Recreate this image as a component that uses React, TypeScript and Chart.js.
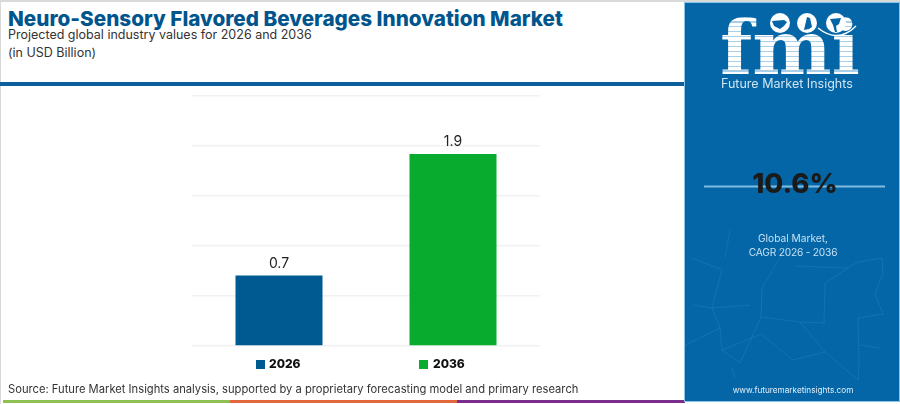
import React, { useEffect, useRef } from "react";
import { Chart, registerables } from "chart.js";

Chart.register(...registerables);

const categories = ["2026", "2036"];
const values = [0.705, 1.92];
const barColors = ["#005A92", "#08AB2E"];
const yTicks = [0, 0.5, 1, 1.5, 2, 2.5];

const SANS = "Inter, 'Noto Sans', sans-serif";

const stripes =
  "repeating-linear-gradient(180deg,#ffffff 0px,#ffffff 3.7px,#a9cfe8 3.7px,#a9cfe8 4.9px)";

const networkLines: [number, number, number, number][] = [
  [730, 230, 725, 258], [692, 258, 722, 270], [722, 270, 712, 308], [712, 308, 750, 305],
  [712, 308, 720, 328], [720, 328, 722, 350], [722, 350, 740, 363], [740, 363, 761, 317],
  [761, 317, 762, 288], [762, 288, 795, 232], [761, 317, 800, 322], [800, 322, 825, 352],
  [800, 322, 825, 323], [795, 266, 848, 268], [848, 268, 825, 283], [825, 283, 824, 323],
  [848, 268, 858, 262], [858, 262, 882, 258], [882, 258, 883, 273], [883, 273, 875, 294],
  [875, 294, 883, 314], [883, 314, 858, 318], [858, 318, 859, 360], [859, 360, 858, 380],
  [825, 352, 858, 380], [793, 360, 825, 352], [761, 334, 793, 360], [722, 350, 761, 334],
  [693, 305, 712, 308], [860, 345, 880, 348], [732, 368, 735, 378], [685, 345, 720, 328],
];

const dataLabels = {
  id: "dataLabels",
  afterDatasetsDraw(chart: any) {
    const { ctx } = chart;
    const meta = chart.getDatasetMeta(0);
    ctx.save();
    ctx.fillStyle = "#222222";
    ctx.font = "400 14px " + SANS;
    ctx.textAlign = "center";
    ctx.textBaseline = "bottom";
    meta.data.forEach((bar: any, i: number) => {
      ctx.fillText(values[i].toFixed(1), bar.x, bar.y - 5);
    });
    ctx.restore();
  },
};

function abs(left: number, top: number, extra: React.CSSProperties = {}): React.CSSProperties {
  return { position: "absolute", left, top, whiteSpace: "nowrap", fontFamily: SANS, ...extra };
}

export default function App() {
  const ref = useRef<HTMLCanvasElement>(null);

  useEffect(() => {
    const chart = new Chart(ref.current!, {
      type: "bar",
      data: {
        labels: categories,
        datasets: [
          {
            data: values,
            backgroundColor: barColors,
            barPercentage: 0.5,
            categoryPercentage: 1,
          },
        ],
      },
      options: {
        responsive: false,
        animation: false,
        devicePixelRatio: 1,
        layout: { padding: { left: 192, right: 360, top: 96, bottom: 58 } },
        plugins: { legend: { display: false }, tooltip: { enabled: false }, title: { display: false } },
        scales: {
          x: {
            grid: { display: false, drawTicks: false },
            border: { display: false },
            ticks: { display: false },
          },
          y: {
            min: 0,
            max: 2.5,
            afterBuildTicks: (axis: any) => {
              axis.ticks = yTicks.map((value) => ({ value }));
            },
            grid: { color: "#f1f1f1", lineWidth: 1.5, drawTicks: false },
            border: { display: false },
            ticks: { display: false },
          },
        },
      },
      plugins: [dataLabels],
    });
    return () => chart.destroy();
  }, []);

  return (
    <div style={{ position: "absolute", left: 0, top: 0, width: 900, height: 404, overflow: "hidden", background: "#ffffff" }}>
      <div style={{ position: "absolute", left: 0, top: 0, width: 900, height: 2, background: "#d9d9d9" }} />
      <div style={{ position: "absolute", left: 0, top: 0, width: 1, height: 404, background: "#d9d9d9" }} />

      <div style={abs(8, 4, { fontSize: 20.7, fontWeight: 800, color: "#00558C", lineHeight: "30px" })}>
        Neuro-Sensory Flavored Beverages Innovation Market
      </div>
      <div style={abs(8, 26, { fontSize: 12.5, color: "#333333", lineHeight: "18px" })}>
        Projected global industry values for 2026 and 2036
      </div>
      <div style={abs(8, 44, { fontSize: 12.5, color: "#333333", lineHeight: "18px" })}>(in USD Billion)</div>

      <div style={{ position: "absolute", left: 0, top: 82, width: 685, height: 4, background: "#0B5F9C" }} />

      <canvas ref={ref} width={900} height={404} style={{ position: "absolute", left: 0, top: 0, width: 900, height: 404 }} />

      {categories.map((c, i) => (
        <React.Fragment key={c}>
          <div style={{ position: "absolute", left: [256, 419][i], top: 360, width: 9, height: 9, background: barColors[i] }} />
          <div style={abs([269, 433][i], 354, { fontSize: 12, fontWeight: 800, color: "#111111", lineHeight: "20px" })}>{c}</div>
        </React.Fragment>
      ))}

      <div style={abs(8, 380, { fontSize: 11.2, color: "#333333", lineHeight: "18px" })}>
        Source: Future Market Insights analysis, supported by a proprietary forecasting model and primary research
      </div>

      <div style={{ position: "absolute", left: 3, top: 400, width: 227, height: 3, background: "#8FC054" }} />
      <div style={{ position: "absolute", left: 230, top: 400, width: 227, height: 3, background: "#E2673C" }} />
      <div style={{ position: "absolute", left: 457, top: 400, width: 228, height: 3, background: "#7B2D8B" }} />

      <div style={{ position: "absolute", left: 685, top: 3, width: 214, height: 398, background: "#0466A7", boxShadow: "0 0 0 1px #8cc4e6" }} />
      <svg width={900} height={404} style={{ position: "absolute", left: 0, top: 0 }}>
        {networkLines.map(([x1, y1, x2, y2], i) => (
          <line key={i} x1={x1} y1={y1} x2={x2} y2={y2} stroke="#6fb0da" strokeOpacity={0.16} strokeWidth={1} />
        ))}
        <line x1={704} y1={186.5} x2={885} y2={186.5} stroke="#7FBCE2" strokeWidth={2} />
      </svg>

      <div
        style={abs(720, 3, {
          fontFamily: "'DejaVu Serif', 'Liberation Serif', serif",
          fontSize: 75,
          fontWeight: 700,
          lineHeight: "90px",
          letterSpacing: 0,
          background: stripes,
          WebkitBackgroundClip: "text",
          backgroundClip: "text",
          color: "transparent",
        })}
      >
        fmi
      </div>
      <svg width={900} height={404} style={{ position: "absolute", left: 0, top: 0 }}>
        <circle cx={780} cy={23} r={10} fill="#ffffff" />
        <circle cx={807} cy={23} r={10} fill="#ffffff" />
        <circle cx={836} cy={23} r={10} fill="#ffffff" />
        <path d="M772 21 l12 -1 l3 2 l-3 4 l-4 3 l-6 -3 z" fill="#0466A7" />
        <path d="M804 30 l3 -13 l3 1 l2 9 l-3 2 z" fill="#0466A7" />
        <path d="M830 19 l11 -1 l-2 6 l-3 2 l1 6 l-2 0 l-2 -7 z" fill="#0466A7" />
        <path d="M818 28 Q838 44 856 26" fill="none" stroke="#ffffff" strokeWidth={1.4} />
      </svg>
      <div style={abs(721, 76, { fontSize: 12.5, color: "#cfe4f3", lineHeight: "16px" })}>Future Market Insights</div>

      <div style={abs(688, 165, { width: 214, textAlign: "center", fontSize: 27.5, fontWeight: 800, color: "#1A1A1A", lineHeight: "36px" })}>10.6%</div>
      <div style={abs(685, 230, { width: 216, textAlign: "center", fontSize: 10.2, color: "#C5E0F2", lineHeight: "16px" })}>Global Market,</div>
      <div style={abs(685, 244, { width: 216, textAlign: "center", fontSize: 10.2, letterSpacing: -0.2, color: "#C5E0F2", lineHeight: "16px" })}>CAGR 2026 - 2036</div>
      <div style={abs(685, 382, { width: 216, textAlign: "center", fontSize: 8.2, color: "#E4F0F8", lineHeight: "16px" })}>www.futuremarketinsights.com</div>
    </div>
  );
}
